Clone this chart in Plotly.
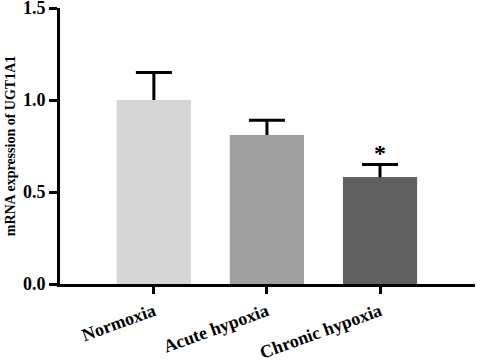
import plotly.graph_objects as go

categories = ["Normoxia", "Acute hypoxia", "Chronic hypoxia"]
values = [1.0, 0.81, 0.58]
errors = [0.15, 0.08, 0.07]
colors = ["#d6d6d6", "#a0a0a0", "#606060"]
y_ticks = [0.0, 0.5, 1.0, 1.5]
y_tick_labels = ["0.0", "0.5", "1.0", "1.5"]
sig_marks = ["", "", "*"]

font_family = "Liberation Serif, Times New Roman, serif"

fig = go.Figure()
# bars carrying the (symmetric) error bars
fig.add_trace(go.Bar(
    x=categories,
    y=values,
    width=0.655,
    marker=dict(color=colors, line=dict(width=0)),
    error_y=dict(type="data", array=errors, symmetric=True,
                 color="black", thickness=3, width=18),
    showlegend=False,
    hoverinfo="skip",
))
# identical bars on top hide the lower half of each error bar
fig.add_trace(go.Bar(
    x=categories,
    y=values,
    width=0.655,
    marker=dict(color=colors, line=dict(width=0)),
    showlegend=False,
))

for c, v, e, s in zip(categories, values, errors, sig_marks):
    if s:
        fig.add_annotation(x=c, y=v + e, text="<b>" + s + "</b>", showarrow=False,
                           yanchor="bottom", yshift=-4,
                           font=dict(family=font_family, size=24, color="black"))

fig.update_layout(
    width=477, height=362,
    margin=dict(l=60, r=2, t=8, b=78, autoexpand=False),
    paper_bgcolor="white", plot_bgcolor="white",
    font=dict(family=font_family, color="black"),
    barmode="overlay",
)
fig.update_xaxes(
    range=[-0.83, 2.84],
    automargin=False,
    showline=True, linecolor="black", linewidth=3,
    ticks="outside", tickcolor="black", tickwidth=3, ticklen=7,
    tickangle=-20,
    ticklabeloverflow="allow",
    tickfont=dict(family=font_family, size=18, color="black"),
    tickprefix="<b>", ticksuffix="</b>",
    showgrid=False, zeroline=False,
)
fig.update_yaxes(
    range=[0, 1.5],
    automargin=False,
    ticklabeloverflow="allow",
    tickvals=y_ticks, ticktext=["<b>" + t + "</b>" for t in y_tick_labels],
    showline=True, linecolor="black", linewidth=3,
    ticks="outside", tickcolor="black", tickwidth=3, ticklen=8,
    tickfont=dict(family=font_family, size=18, color="black"),
    title=dict(text="<b>mRNA expression of UGT1A1</b>",
               font=dict(family=font_family, size=14, color="black"), standoff=5),
    showgrid=False, zeroline=False,
)

fig.write_html("out.html", config={"displayModeBar": False},
               post_script="document.body.style.margin='0';document.body.style.padding='0';")
